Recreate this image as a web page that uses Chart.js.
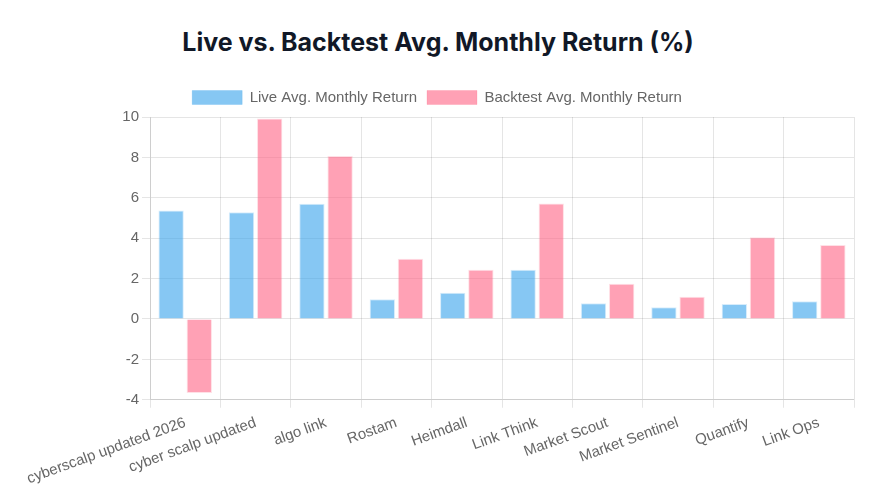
<!DOCTYPE html>
<html>
<head>
<meta charset="utf-8">
<script src="https://cdn.jsdelivr.net/npm/chart.js@4"></script>
<style>
  body { margin: 0; background: #fff; }
  h2 { margin: 0; padding: 27px 8px 0 0; height: 53px; text-align: center; font-family: Inter, "Open Sans", sans-serif; font-weight: 700; font-size: 25px; color: #111827; }
  .wrap { position: relative; width: 884px; height: 414px; }
</style>
</head>
<body>
<h2>Live vs. Backtest Avg. Monthly Return (%)</h2>
<div class="wrap"><canvas id="chart"></canvas></div>
<script>
const strategies = ['cyberscalp updated 2026', 'cyber scalp updated', 'algo link', 'Rostam', 'Heimdall', 'Link Think', 'Market Scout', 'Market Sentinel', 'Quantify', 'Link Ops']
const liveReturns = [5.37, 5.28, 5.71, 0.98, 1.3, 2.44, 0.78, 0.58, 0.74, 0.88]
const backtestReturns = [-3.67, 9.93, 8.07, 2.98, 2.44, 5.72, 1.74, 1.1, 4.05, 3.66]

Chart.defaults.font.family = '"Liberation Sans", Arial, sans-serif'
Chart.defaults.font.size = 15
Chart.defaults.color = '#666'

// keep the legend a bit away from the plot
const legendGap = {
    id: 'legendGap',
    beforeInit(chart) {
        const fit = chart.legend.fit
        chart.legend.fit = function () {
            fit.bind(chart.legend)()
            this.height += 2
        }
    }
}

new Chart(document.getElementById('chart'), {
    type: 'bar',
    data: {
        labels: strategies,
        datasets: [{
            label: 'Live Avg. Monthly Return',
            data: liveReturns,
            backgroundColor: 'rgba(54, 162, 235, 0.6)',
            borderColor: 'rgba(54, 162, 235, 0.2)',
            borderWidth: 1,
        }, {
            label: 'Backtest Avg. Monthly Return',
            data: backtestReturns,
            backgroundColor: 'rgba(255, 99, 132, 0.6)',
            borderColor: 'rgba(255, 99, 132, 0.2)',
            borderWidth: 1,
        }]
    },
    options: {
        responsive: true,
        maintainAspectRatio: false,
        animation: false,
        layout: { padding: { left: 20, right: 30, top: 0, bottom: 0 } },
        plugins: {
            legend: {
                position: 'top',
                labels: { boxWidth: 50, boxHeight: 14 }
            }
        },
        scales: {
            y: {
                min: -4,
                max: 10,
                ticks: { stepSize: 2 },
                afterFit(scale) { scale.width = 130 }
            },
            x: {
                ticks: { minRotation: 20, maxRotation: 20, padding: 6 },
            }
        }
    },
    plugins: [legendGap]
})
</script>
</body>
</html>
